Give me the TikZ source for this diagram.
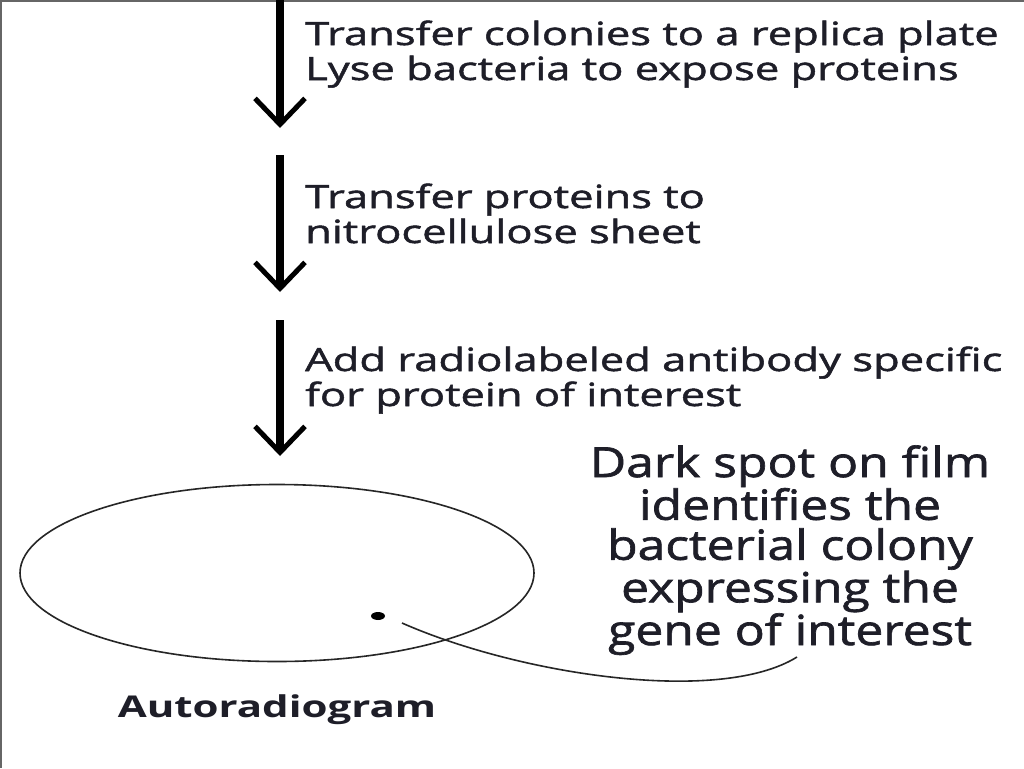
\documentclass[tikz,border=0pt]{standalone}
\usepackage{fontspec}
\setmainfont{Open Sans}
\newfontfamily\stepfont[FakeStretch=1.36,FakeBold=1.6]{Open Sans}
\newfontfamily\notefont[FakeStretch=1.2,FakeBold=1.6]{Open Sans}
\newfontfamily\labelfont[FakeStretch=1.4]{Open Sans}
\usetikzlibrary{arrows.meta,shapes.geometric}
\definecolor{inkc}{RGB}{30,30,40}
\begin{document}
\begin{tikzpicture}[x=1pt,y=-1pt,
  steparrow/.style={line width=7.5pt,-{Straight Barb[length=26pt,width=50pt,line width=5pt]}},
  steptext/.style={anchor=base west,inner sep=0pt,align=left,text=inkc,font=\stepfont\fontsize{32}{35}\selectfont},
  notetext/.style={anchor=base,inner sep=0pt,align=center,text=inkc,font=\notefont\fontsize{41.5}{40}\selectfont},
  thinline/.style={line width=1.6pt,draw=black!85}]
\useasboundingbox (0,0) rectangle (1024,768);
\fill[white] (0,0) rectangle (1024,768);
\draw[gray!80!black,line width=2pt] (1,768) -- (1,1) -- (1024,1);
% arrows
\coordinate (a1s) at (280,0);   \coordinate (a1e) at (280,128);
\coordinate (a2s) at (280,155); \coordinate (a2e) at (280,292);
\coordinate (a3s) at (280,320); \coordinate (a3e) at (280,456);
\draw[steparrow] (a1s) -- (a1e);
\draw[steparrow] (a2s) -- (a2e);
\draw[steparrow] (a3s) -- (a3e);
% step texts (anchored at baseline of last line)
\node[steptext] (t1) at (305,80) {Transfer colonies to a replica plate\\Lyse bacteria to expose proteins};
\node[steptext] (t2) at (305,243) {Transfer proteins to\\nitrocellulose sheet};
\node[steptext] (t3) at (305,406) {Add radiolabeled antibody specific\\for protein of interest};
% note
\node[notetext] (note) at (790,645) {Dark spot on film\\identifies the\\bacterial colony\\expressing the\\gene of interest};
% plate
\node[draw,thinline,ellipse,minimum width=514pt,minimum height=177pt,inner sep=0pt] (plate) at (277,573) {};
\node[fill=black,ellipse,minimum width=14pt,minimum height=8pt,inner sep=0pt] (spot) at (378,616) {};
\coordinate (cs) at (402,623);
\coordinate (ce) at (797,657);
\draw[thinline] (cs) .. controls (520,675) and (720,705) .. (ce);
\node[anchor=base,inner sep=0pt,text=inkc,font=\labelfont\bfseries\fontsize{30}{35}\selectfont] (label) at (277,717) {Autoradiogram};
\end{tikzpicture}
\end{document}
